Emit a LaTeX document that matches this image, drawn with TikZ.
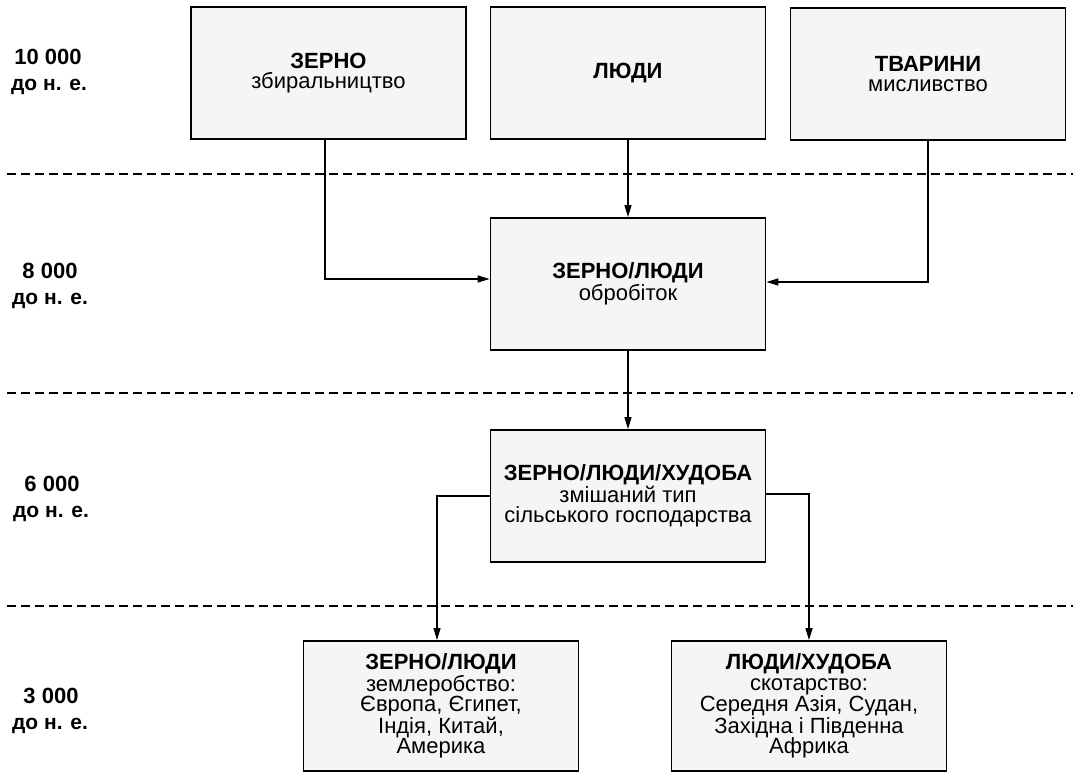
\documentclass[tikz,border=0pt]{standalone}
\usepackage{fontspec}
\setmainfont{Liberation Sans}
\usetikzlibrary{arrows.meta}
\tikzset{
  stagebox/.style={draw=black, line width=1.8pt, fill=black!4, minimum width=275pt,
    minimum height=132pt, inner sep=0pt, align=center,
    font=\fontsize{22pt}{20.5pt}\selectfont},
  conn/.style={line width=1.3pt, -{Triangle[length=12pt,width=7pt]}},
  divider/.style={line width=1.2pt, dash pattern=on 9pt off 5pt},
  yearnum/.style={font=\bfseries\fontsize{22pt}{24pt}\selectfont, anchor=base, inner sep=0pt},
  yearera/.style={font=\bfseries\fontsize{21pt}{24pt}\selectfont, anchor=base, inner sep=0pt}
}
\begin{document}
\begin{tikzpicture}[x=1pt,y=-1pt]
\useasboundingbox (0,0) rectangle (1073,773);
\fill[white] (0,0) rectangle (1073,773);
% dividers
\coordinate (d1a) at (7,174); \coordinate (d1b) at (1073,174);
\coordinate (d2a) at (7,393); \coordinate (d2b) at (1073,393);
\coordinate (d3a) at (7,606); \coordinate (d3b) at (1073,606);
\draw[divider] (d1a) -- (d1b);
\draw[divider] (d2a) -- (d2b);
\draw[divider] (d3a) -- (d3b);
% year labels
\node[yearnum] (y1) at (48,65) {10 000};
\node[yearera] (e1) at (49,91) {до н. е.};
\node[yearnum] (y2) at (50,278) {8 000};
\node[yearera] (e2) at (50,304) {до н. е.};
\node[yearnum] (y3) at (52,491) {6 000};
\node[yearera] (e3) at (51,517) {до н. е.};
\node[yearnum] (y4) at (51,703) {3 000};
\node[yearera] (e4) at (50,729) {до н. е.};
% boxes
\node[stagebox] (z1) at (328.5,73) {\textbf{ЗЕРНО}\\збиральництво};
\node[stagebox] (z2) at (628,73) {\textbf{ЛЮДИ}};
\node[stagebox] (z3) at (928,74) {\textbf{ТВАРИНИ}\\мисливство};
\node[stagebox] (zl) at (628,284) {\textbf{ЗЕРНО/ЛЮДИ}\\обробіток};
\node[stagebox] (zm) at (628,496) {\textbf{ЗЕРНО/ЛЮДИ/ХУДОБА}\\змішаний тип\\сільського господарства};
\node[stagebox, minimum height=130pt] (bl) at (441,706) {\textbf{ЗЕРНО/ЛЮДИ}\\землеробство:\\Європа, Єгипет,\\Індія, Китай,\\Америка};
\node[stagebox, minimum height=130pt] (br) at (809,706) {\textbf{ЛЮДИ/ХУДОБА}\\скотарство:\\Середня Азія, Судан,\\Західна і Південна\\Африка};
% connectors
\draw[conn] ([xshift=-3.5pt]z1.south) |- ([yshift=5pt]zl.west);
\draw[conn] (z2.south) -- (zl.north);
\draw[conn] (z3.south) |- ([yshift=2pt]zl.east);
\draw[conn] (zl.south) -- (zm.north);
\draw[conn] (zm.west) -| ([xshift=-4pt]bl.north);
\draw[conn] ([yshift=2pt]zm.east) -| (br.north);
\end{tikzpicture}
\end{document}
